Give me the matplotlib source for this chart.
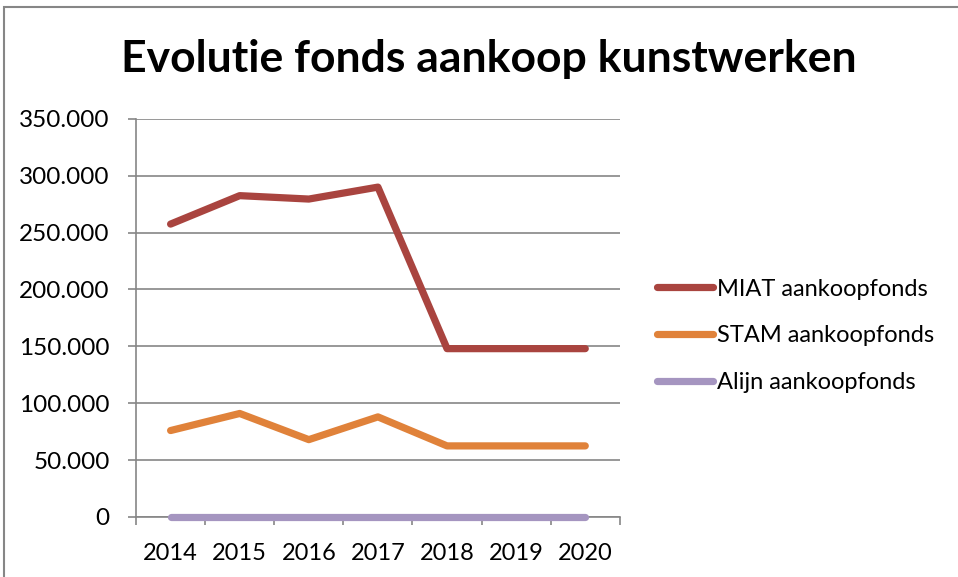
import matplotlib
matplotlib.use("Agg")
import matplotlib.pyplot as plt
from matplotlib.patches import Rectangle
from matplotlib.ticker import FuncFormatter, FixedLocator

jaren = ["2014", "2015", "2016", "2017", "2018", "2019", "2020"]
miat = [257500, 282500, 279500, 290000, 148000, 148000, 148000]
stam = [76000, 91000, 68000, 88000, 62500, 62500, 62500]
alijn = [0, 0, 0, 0, 0, 0, 0]

reeksen = [
    ("MIAT aankoopfonds", miat, "#A9443F"),
    ("STAM aankoopfonds", stam, "#E0823A"),
    ("Alijn aankoopfonds", alijn, "#A595C0"),
]

plt.rcParams['font.family'] = ['Lato', 'DejaVu Sans']

fig = plt.figure(figsize=(9.58, 5.77), dpi=100)
ax = fig.add_axes([0.142, 0.104, 0.505, 0.69])

x = list(range(len(jaren)))
for naam, waarden, kleur in reeksen:
    ax.plot(x, waarden, color=kleur, linewidth=5.2, label=naam,
            solid_capstyle='round', solid_joinstyle='round', clip_on=False, zorder=3)

ax.set_xlim(-0.5, len(jaren) - 0.5)
ax.set_ylim(0, 350000)
ax.set_yticks(range(0, 350001, 50000))
ax.yaxis.set_major_formatter(FuncFormatter(lambda v, p: f"{int(v):,}".replace(",", ".")))
ax.yaxis.grid(True, color="#868686", linewidth=1.2)
ax.set_axisbelow(True)

ax.set_xticks(x)
ax.set_xticklabels(jaren)
ax.xaxis.set_minor_locator(FixedLocator([i - 0.5 for i in range(len(jaren) + 1)]))
ax.tick_params(axis='x', which='major', length=0, pad=19, labelsize=17)
ax.tick_params(axis='x', which='minor', length=6, color="#868686", width=1.2)
ax.tick_params(axis='y', length=6, color="#868686", width=1.2, pad=13, labelsize=17.5)

for s in ["top", "right"]:
    ax.spines[s].set_visible(False)
for s in ["left", "bottom"]:
    ax.spines[s].set_color("#868686")
    ax.spines[s].set_linewidth(1.2)

fig.text(0.51, 0.897, "Evolutie fonds aankoop kunstwerken", ha="center", va="center",
         fontsize=32, fontweight="bold")

fig.legend(loc="center left", bbox_to_anchor=(0.686, 0.418), frameon=False,
           borderpad=0, borderaxespad=0,
           fontsize=17, handlelength=2.35, handletextpad=0.17, labelspacing=1.09)

# kader rond de grafiek
fig.patches.append(Rectangle((4 / 958, -0.05), 1.2, 1.05 - 7 / 577, transform=fig.transFigure,
                             fill=False, edgecolor="#868686", linewidth=1.5))

fig.savefig("out.png", dpi=100)
